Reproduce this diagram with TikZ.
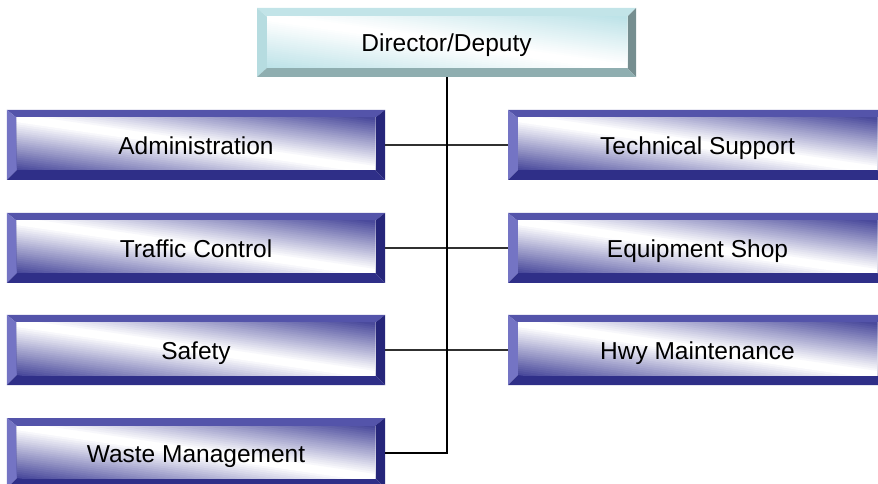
\documentclass[tikz,border=0pt]{standalone}
\usepackage{fontspec}
\setmainfont{Liberation Sans}
\usetikzlibrary{calc}
\definecolor{subtop}{HTML}{5454AA}
\definecolor{subleft}{HTML}{7474C4}
\definecolor{subright}{HTML}{26267A}
\definecolor{subbot}{HTML}{2F2F88}
\definecolor{subdark}{HTML}{46469A}
\definecolor{dirtop}{HTML}{C2E4E8}
\definecolor{dirleft}{HTML}{B6DCE0}
\definecolor{dirright}{HTML}{768E90}
\definecolor{dirbot}{HTML}{8FAEB0}
\definecolor{dirdark}{HTML}{BCE2E7}
\definecolor{branchgray}{HTML}{303030}
\newcommand\bevdraw[9]{%
  \coordinate (bA) at (path picture bounding box.north west);
  \coordinate (bB) at (path picture bounding box.north east);
  \coordinate (bC) at (path picture bounding box.south east);
  \coordinate (bD) at (path picture bounding box.south west);
  \coordinate (ia) at ([shift={(#6bp,-#7bp)}]bA);
  \coordinate (ib) at ([shift={(-#8bp,-#7bp)}]bB);
  \coordinate (ic) at ([shift={(-#8bp,#9bp)}]bC);
  \coordinate (id) at ([shift={(#6bp,#9bp)}]bD);
  \fill[#1] (bA) -- (bB) -- (ib) -- (ia) -- cycle;
  \fill[#2] (bA) -- (ia) -- (id) -- (bD) -- cycle;
  \fill[#3] (bB) -- (bC) -- (ic) -- (ib) -- cycle;
  \fill[#4] (bD) -- (id) -- (ic) -- (bC) -- cycle;
  \begin{scope}
    \clip (ia) rectangle (ic);
    \foreach \i in {0,...,49}{%
      \pgfmathsetmacro\sa{-1+\i*0.04}%
      \pgfmathsetmacro\va{\sa+1.1}%
      \pgfmathsetmacro\vb{\sa-0.1}%
      \pgfmathsetmacro\sm{abs(\sa+0.02)}%
      \pgfmathsetmacro\pc{100*max(0,min(1,(\sm-0.06)/0.94))}%
      \fill[#5!\pc!white]
        ($(id)!-0.1!(ic) + {\va}*(ia) - {\va}*(id)$) --
        ($(id)!1.1!(ic) + {\vb}*(ia) - {\vb}*(id)$) --
        ($(id)!1.1!(ic) + 3*(ia) - 3*(id)$) --
        ($(id)!-0.1!(ic) + 3*(ia) - 3*(id)$) -- cycle;
    }
  \end{scope}
}
\tikzset{
  boxtext/.style={inner sep=0pt, text height=19bp, text depth=0pt,
    font=\fontsize{24.5bp}{29bp}\selectfont},
  subbox/.style={boxtext, minimum width=378bp, minimum height=70bp,
    path picture={\bevdraw{subtop}{subleft}{subright}{subbot}{subdark}{10}{8}{10}{10}}},
  rsubbox/.style={subbox, minimum width=379bp},
  dirbox/.style={boxtext, minimum width=379bp, minimum height=69bp,
    path picture={\bevdraw{dirtop}{dirleft}{dirright}{dirbot}{dirdark}{10}{9}{9}{9}}},
  trunk/.style={line width=2bp, black},
  branch/.style={line width=1.5bp, branchgray}
}
\begin{document}
\begin{tikzpicture}[x=1bp, y=-1bp]
\clip (0,0) rectangle (878,484);
\node[dirbox] (dir) at (446.5,42.5) {Director/Deputy};
\node[subbox] (adm) at (196,145) {Administration};
\node[subbox] (tra) at (196,248) {Traffic Control};
\node[subbox] (saf) at (196,350) {Safety};
\node[subbox] (was) at (196,453) {Waste Management};
\node[rsubbox] (tec) at (697.5,145) {Technical Support};
\node[rsubbox] (equ) at (697.5,248) {Equipment Shop};
\node[rsubbox] (hwy) at (697.5,350) {Hwy Maintenance};
\draw[branch] (adm.east) -- (tec.west);
\draw[branch] (tra.east) -- (equ.west);
\draw[branch] (saf.east) -- (hwy.west);
\draw[trunk] (dir.south) |- (was.east);
\end{tikzpicture}
\end{document}
